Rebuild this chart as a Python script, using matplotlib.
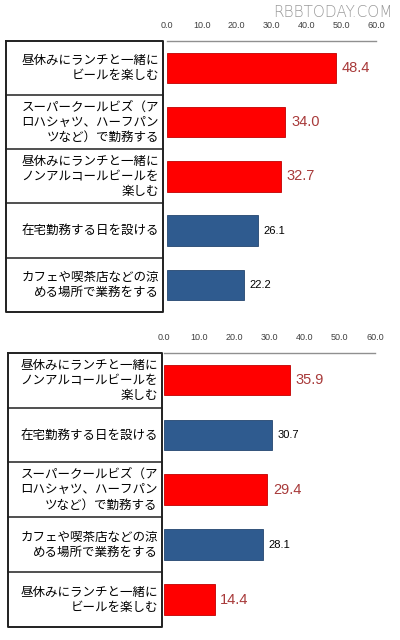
import matplotlib
matplotlib.use("Agg")
import matplotlib.pyplot as plt

plt.rcParams['font.family'] = ['Noto Sans CJK JP', 'DejaVu Sans']

# top chart
top_labels = [
    "昼休みにランチと一緒に\nビールを楽しむ",
    "スーパークールビズ（ア\nロハシャツ、ハーフパン\nツなど）で勤務する",
    "昼休みにランチと一緒に\nノンアルコールビールを\n楽しむ",
    "在宅勤務する日を設ける",
    "カフェや喫茶店などの涼\nめる場所で業務をする",
]
top_values = [48.4, 34.0, 32.7, 26.1, 22.2]
top_beer = [True, True, True, False, False]

# bottom chart
bottom_labels = [
    "昼休みにランチと一緒に\nノンアルコールビールを\n楽しむ",
    "在宅勤務する日を設ける",
    "スーパークールビズ（ア\nロハシャツ、ハーフパン\nツなど）で勤務する",
    "カフェや喫茶店などの涼\nめる場所で業務をする",
    "昼休みにランチと一緒に\nビールを楽しむ",
]
bottom_values = [35.9, 30.7, 29.4, 28.1, 14.4]
bottom_beer = [True, False, True, False, True]

x_ticks = [0, 10, 20, 30, 40, 50, 60]

RED = '#ff0000'
BLUE = '#2f5b8f'
VAL_RED = '#a83a3a'
NUM_FONT = ['Liberation Sans', 'DejaVu Sans']


def draw_panel(ax, labels, values, beer, box_left, box_right):
    n = len(values)
    ys = list(range(n))
    colors = [RED if b else BLUE for b in beer]
    edges = ['#c00000' if b else '#24466f' for b in beer]
    ax.barh(ys, values, height=0.56, color=colors, edgecolor=edges, linewidth=0.6)
    ax.set_xlim(0, 60)
    ax.set_ylim(n - 0.5, -0.5)
    ax.xaxis.tick_top()
    ax.set_xticks(x_ticks)
    ax.set_xticklabels([f"{t:.1f}" for t in x_ticks], fontsize=6.5, color='#404040',
                       family=NUM_FONT)
    ax.tick_params(axis='x', length=0, pad=8)
    ax.set_yticks([])
    for s in ['bottom', 'left', 'right']:
        ax.spines[s].set_visible(False)
    ax.spines['top'].set_color('#909090')
    ax.spines['top'].set_linewidth(1.0)

    for y, v, b in zip(ys, values, beer):
        if b:
            ax.text(v + 1.6, y, f"{v:.1f}", va='center', ha='left', fontsize=10.5,
                    color=VAL_RED, family=NUM_FONT)
        else:
            ax.text(v + 1.6, y, f"{v:.1f}", va='center', ha='left', fontsize=8,
                    color='black', family=NUM_FONT)

    # box with category labels, left of the bars
    tr = ax.get_yaxis_transform()
    ax.plot([box_left, box_right, box_right, box_left, box_left],
            [-0.5, -0.5, n - 0.5, n - 0.5, -0.5],
            color='#202020', lw=1.4, transform=tr, clip_on=False)
    for k in range(1, n):
        ax.plot([box_left, box_right], [k - 0.5, k - 0.5], color='#202020',
                lw=1.1, transform=tr, clip_on=False)
    for y, lab in zip(ys, labels):
        ax.text(box_right - 0.02, y, lab, ha='right', va='center', fontsize=9,
                linespacing=1.22, multialignment='right', transform=tr)


fig = plt.figure(figsize=(4, 6.4), dpi=100)
ax1 = fig.add_axes([0.4175, 0.5125, 0.5225, 0.4239])
ax2 = fig.add_axes([0.41, 0.0203, 0.5275, 0.4286])

draw_panel(ax1, top_labels, top_values, top_beer, -0.770, -0.019)
draw_panel(ax2, bottom_labels, bottom_values, bottom_beer, -0.739, -0.0095)

fig.text(0.9825, 0.981, "RBBTODAY.COM", ha='right', va='center', fontsize=11,
         color='#9a9a9a', family=['DejaVu Sans'], fontweight='light')

fig.savefig("out.png", dpi=100, facecolor='white')
